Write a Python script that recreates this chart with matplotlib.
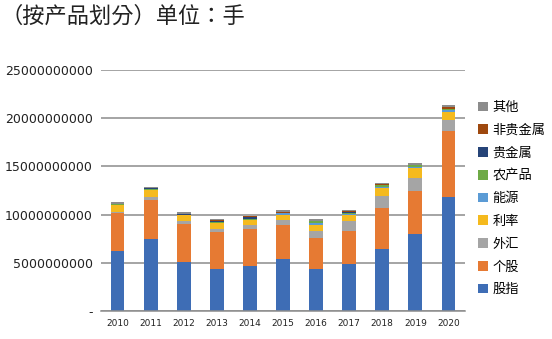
import matplotlib
matplotlib.use("Agg")
import matplotlib.pyplot as plt
from matplotlib.patches import Patch
from matplotlib.ticker import FuncFormatter, MultipleLocator

plt.rcParams['font.family'] = ['DejaVu Sans', 'Noto Sans CJK SC']

years = ['2010', '2011', '2012', '2013', '2014', '2015', '2016', '2017', '2018', '2019', '2020']

# values in units of 1e9 contracts (手)
gu_zhi      = [6.25, 7.50, 5.10, 4.38, 4.69, 5.42, 4.38, 4.90, 6.46, 8.02, 11.83]   # 股指
ge_gu       = [3.95, 4.06, 3.96, 3.85, 3.85, 3.54, 3.23, 3.44, 4.27, 4.38, 6.86]    # 个股
wai_hui     = [0.05, 0.31, 0.24, 0.31, 0.35, 0.52, 0.73, 0.97, 1.15, 1.35, 1.14]    # 外汇
li_lv       = [0.70, 0.63, 0.63, 0.56, 0.52, 0.52, 0.63, 0.66, 0.83, 1.04, 0.83]    # 利率
neng_yuan   = [0.04, 0.10, 0.04, 0.08, 0.07, 0.12, 0.17, 0.14, 0.20, 0.14, 0.20]    # 能源
nong_chan   = [0.08, 0.10, 0.04, 0.10, 0.10, 0.06, 0.17, 0.10, 0.14, 0.17, 0.10]    # 农产品
gui_jin     = [0.02, 0.02, 0.02, 0.05, 0.20, 0.02, 0.03, 0.03, 0.04, 0.03, 0.04]    # 贵金属
fei_gui_jin = [0.03, 0.03, 0.03, 0.06, 0.04, 0.04, 0.04, 0.10, 0.10, 0.05, 0.14]    # 非贵金属
qi_ta       = [0.20, 0.15, 0.20, 0.15, 0.05, 0.26, 0.15, 0.10, 0.10, 0.18, 0.20]    # 其他

series = [
    ('股指', gu_zhi, '#3E6DB5'),
    ('个股', ge_gu, '#E67A33'),
    ('外汇', wai_hui, '#A5A5A5'),
    ('利率', li_lv, '#F5BA1E'),
    ('能源', neng_yuan, '#5B9BD5'),
    ('农产品', nong_chan, '#6EAA46'),
    ('贵金属', gui_jin, '#264478'),
    ('非贵金属', fei_gui_jin, '#9E480E'),
    ('其他', qi_ta, '#8C8C8C'),
]

fig = plt.figure(figsize=(5.52, 3.39), dpi=100)
ax = fig.add_axes([101/552, 1 - 311/339, (465-101)/552, (311-70)/339])

x = list(range(len(years)))
bottom = [0.0] * len(years)
handles = []
for name, vals, color in series:
    v = [val * 1e9 for val in vals]
    ax.bar(x, v, width=0.42, bottom=bottom, color=color, zorder=3, linewidth=0)
    bottom = [b + val for b, val in zip(bottom, v)]
    handles.append(Patch(facecolor=color, edgecolor='none', label=name))

ax.set_xlim(-0.5, 10.5)
ax.set_ylim(0, 25e9)
ax.yaxis.set_major_locator(MultipleLocator(5e9))
ax.yaxis.set_major_formatter(FuncFormatter(lambda v, p: '-' if v == 0 else f'{int(round(v))}'))
ax.set_xticks(x)
ax.set_xticklabels(years)
ax.grid(axis='y', color='#8C8C8C', linewidth=1.1, zorder=0)
for s in ['top', 'right', 'left']:
    ax.spines[s].set_visible(False)
ax.spines['bottom'].set_color('#8C8C8C')
ax.spines['bottom'].set_linewidth(1.1)
ax.spines['bottom'].set_zorder(4)
ax.tick_params(axis='both', length=0)
ax.tick_params(axis='y', pad=6, labelsize=9, labelcolor='#222222')
ax.tick_params(axis='x', pad=6, labelsize=6.5, labelcolor='#222222')

leg = fig.legend(handles[::-1], [h.get_label() for h in handles[::-1]],
                 loc='upper left', bbox_to_anchor=(478/552, 1 - 101/339),
                 frameon=False, prop={'family': 'Noto Sans CJK SC', 'size': 9.5},
                 handlelength=0.75, handleheight=0.75, handletextpad=0.35,
                 labelspacing=0.74, borderpad=0, borderaxespad=0)

fig.text(0.5/552, 1 - 16/339, '（按产品划分）单位：手', fontsize=16,
         family='Noto Sans CJK TC', va='center', ha='left', color='#222222')

fig.savefig('out.png', dpi=100)
